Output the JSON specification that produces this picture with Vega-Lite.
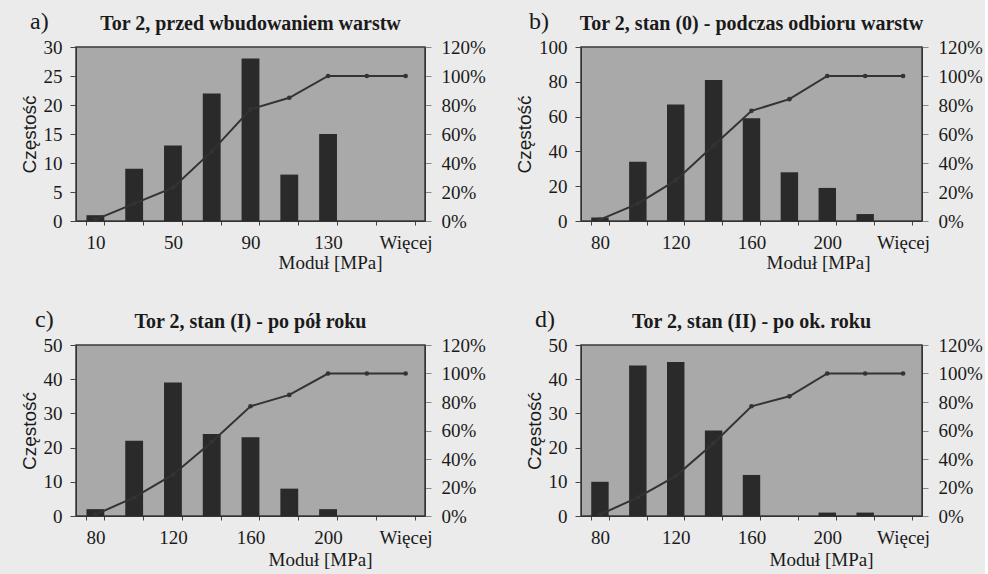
{
  "$schema": "https://vega.github.io/schema/vega-lite/v6.json",
  "background": "#ebebeb",
  "padding": {"left": 19, "top": 10, "right": 1, "bottom": 4},
  "datasets": {
    "a": [
      {"cat": "10", "n": 1, "cum": 0.01},
      {"cat": "30", "n": 9, "cum": 0.12},
      {"cat": "50", "n": 13, "cum": 0.23},
      {"cat": "70", "n": 22, "cum": 0.48},
      {"cat": "90", "n": 28, "cum": 0.77},
      {"cat": "110", "n": 8, "cum": 0.85},
      {"cat": "130", "n": 15, "cum": 1.0},
      {"cat": "150", "n": 0, "cum": 1.0},
      {"cat": "Więcej", "n": 0, "cum": 1.0}
    ],
    "b": [
      {"cat": "80", "n": 2, "cum": 0.01},
      {"cat": "100", "n": 34, "cum": 0.12},
      {"cat": "120", "n": 67, "cum": 0.28},
      {"cat": "140", "n": 81, "cum": 0.52},
      {"cat": "160", "n": 59, "cum": 0.76},
      {"cat": "180", "n": 28, "cum": 0.84},
      {"cat": "200", "n": 19, "cum": 1.0},
      {"cat": "220", "n": 4, "cum": 1.0},
      {"cat": "Więcej", "n": 0, "cum": 1.0}
    ],
    "c": [
      {"cat": "80", "n": 2, "cum": 0.01},
      {"cat": "100", "n": 22, "cum": 0.13},
      {"cat": "120", "n": 39, "cum": 0.29},
      {"cat": "140", "n": 24, "cum": 0.52},
      {"cat": "160", "n": 23, "cum": 0.77},
      {"cat": "180", "n": 8, "cum": 0.85},
      {"cat": "200", "n": 2, "cum": 1.0},
      {"cat": "220", "n": 0, "cum": 1.0},
      {"cat": "Więcej", "n": 0, "cum": 1.0}
    ],
    "d": [
      {"cat": "80", "n": 10, "cum": 0.01},
      {"cat": "100", "n": 44, "cum": 0.13},
      {"cat": "120", "n": 45, "cum": 0.28},
      {"cat": "140", "n": 25, "cum": 0.51},
      {"cat": "160", "n": 12, "cum": 0.77},
      {"cat": "180", "n": 0, "cum": 0.84},
      {"cat": "200", "n": 1, "cum": 1.0},
      {"cat": "220", "n": 1, "cum": 1.0},
      {"cat": "Więcej", "n": 0, "cum": 1.0}
    ]
  },
  "bounds": "flush",
  "spacing": 298,
  "vconcat": [
    {
      "bounds": "flush",
      "spacing": 505,
      "hconcat": [
        {
          "bounds": "flush",
          "title": {"text": "a)", "anchor": "start", "frame": "group", "dx": -46, "dy": 21, "fontSize": 24, "fontWeight": "normal", "font": "Liberation Serif", "offset": 0},
          "vconcat": [
            {
              "title": {"text": "Tor 2, przed wbudowaniem warstw", "fontSize": 20, "fontWeight": "bold", "font": "Liberation Serif", "anchor": "middle", "offset": 4},
              "width": 349, "height": 174,
              "data": {"name": "a"},
              "encoding": {
                "x": {"field": "cat", "type": "nominal", "sort": null,
                  "scale": {"paddingInner": 0.54, "paddingOuter": 0.27},
                  "axis": {"title": "Moduł [MPa]", "labelExpr": "indexof(['10','50','90','130','Więcej'], datum.label) >= 0 ? datum.label : ''", "titleX": 254, "titleY": 47, "titleBaseline": "alphabetic"}}
              },
              "layer": [
                {"mark": {"type": "bar", "color": "#2a2a2a"},
                 "encoding": {"y": {"field": "n", "type": "quantitative", "scale": {"domain": [0, 30], "nice": false},
                   "axis": {"title": "Częstość", "titleFont": "Liberation Sans", "values": [0, 5, 10, 15, 20, 25, 30], "tickSize": 6, "labelPadding": 8, "titlePadding": 4}}}},
                {"mark": {"type": "line", "color": "#333333", "strokeWidth": 2, "point": {"filled": true, "size": 22, "color": "#333333"}},
                 "encoding": {"y": {"field": "cum", "type": "quantitative", "scale": {"domain": [0, 1.2], "nice": false},
                   "axis": {"orient": "right", "title": null, "format": ".0%", "values": [0, 0.2, 0.4, 0.6, 0.8, 1.0, 1.2], "tickSize": 6, "labelPadding": 10, "tickColor": "#888888"}}}}
              ],
              "resolve": {"scale": {"y": "independent"}}
            }
          ]
        },
        {
          "bounds": "flush",
          "title": {"text": "b)", "anchor": "start", "frame": "group", "dx": -52, "dy": 21, "fontSize": 24, "fontWeight": "normal", "font": "Liberation Serif", "offset": 0},
          "vconcat": [
            {
              "title": {"text": "Tor 2, stan (0) - podczas odbioru warstw", "fontSize": 20, "fontWeight": "bold", "font": "Liberation Serif", "anchor": "middle", "offset": 4},
              "width": 341, "height": 174,
              "data": {"name": "b"},
              "encoding": {
                "x": {"field": "cat", "type": "nominal", "sort": null,
                  "scale": {"paddingInner": 0.54, "paddingOuter": 0.27},
                  "axis": {"title": "Moduł [MPa]", "labelExpr": "indexof(['80','120','160','200','Więcej'], datum.label) >= 0 ? datum.label : ''", "titleX": 237, "titleY": 47, "titleBaseline": "alphabetic"}}
              },
              "layer": [
                {"mark": {"type": "bar", "color": "#2a2a2a"},
                 "encoding": {"y": {"field": "n", "type": "quantitative", "scale": {"domain": [0, 100], "nice": false},
                   "axis": {"title": "Częstość", "titleFont": "Liberation Sans", "values": [0, 20, 40, 60, 80, 100], "tickSize": 6, "labelPadding": 8, "titlePadding": 4}}}},
                {"mark": {"type": "line", "color": "#333333", "strokeWidth": 2, "point": {"filled": true, "size": 22, "color": "#333333"}},
                 "encoding": {"y": {"field": "cum", "type": "quantitative", "scale": {"domain": [0, 1.2], "nice": false},
                   "axis": {"orient": "right", "title": null, "format": ".0%", "values": [0, 0.2, 0.4, 0.6, 0.8, 1.0, 1.2], "tickSize": 6, "labelPadding": 10, "tickColor": "#888888"}}}}
              ],
              "resolve": {"scale": {"y": "independent"}}
            }
          ]
        }
      ]
    },
    {
      "bounds": "flush",
      "spacing": 505,
      "hconcat": [
        {
          "bounds": "flush",
          "title": {"text": "c)", "anchor": "start", "frame": "group", "dx": -41, "dy": 21, "fontSize": 24, "fontWeight": "normal", "font": "Liberation Serif", "offset": 0},
          "vconcat": [
            {
              "title": {"text": "Tor 2, stan (I) - po pół roku", "fontSize": 20, "fontWeight": "bold", "font": "Liberation Serif", "anchor": "middle", "offset": 4},
              "width": 349, "height": 171,
              "data": {"name": "c"},
              "encoding": {
                "x": {"field": "cat", "type": "nominal", "sort": null,
                  "scale": {"paddingInner": 0.54, "paddingOuter": 0.27},
                  "axis": {"title": "Moduł [MPa]", "labelExpr": "indexof(['80','120','160','200','Więcej'], datum.label) >= 0 ? datum.label : ''", "titleX": 244, "titleY": 49, "titleBaseline": "alphabetic"}}
              },
              "layer": [
                {"mark": {"type": "bar", "color": "#2a2a2a"},
                 "encoding": {"y": {"field": "n", "type": "quantitative", "scale": {"domain": [0, 50], "nice": false},
                   "axis": {"title": "Częstość", "titleFont": "Liberation Sans", "values": [0, 10, 20, 30, 40, 50], "tickSize": 6, "labelPadding": 8, "titlePadding": 4}}}},
                {"mark": {"type": "line", "color": "#333333", "strokeWidth": 2, "point": {"filled": true, "size": 22, "color": "#333333"}},
                 "encoding": {"y": {"field": "cum", "type": "quantitative", "scale": {"domain": [0, 1.2], "nice": false},
                   "axis": {"orient": "right", "title": null, "format": ".0%", "values": [0, 0.2, 0.4, 0.6, 0.8, 1.0, 1.2], "tickSize": 6, "labelPadding": 10, "tickColor": "#888888"}}}}
              ],
              "resolve": {"scale": {"y": "independent"}}
            }
          ]
        },
        {
          "bounds": "flush",
          "title": {"text": "d)", "anchor": "start", "frame": "group", "dx": -46, "dy": 21, "fontSize": 24, "fontWeight": "normal", "font": "Liberation Serif", "offset": 0},
          "vconcat": [
            {
              "title": {"text": "Tor 2, stan (II) - po ok. roku", "fontSize": 20, "fontWeight": "bold", "font": "Liberation Serif", "anchor": "middle", "offset": 4},
              "width": 341, "height": 171,
              "data": {"name": "d"},
              "encoding": {
                "x": {"field": "cat", "type": "nominal", "sort": null,
                  "scale": {"paddingInner": 0.54, "paddingOuter": 0.27},
                  "axis": {"title": "Moduł [MPa]", "labelExpr": "indexof(['80','120','160','200','Więcej'], datum.label) >= 0 ? datum.label : ''", "titleX": 240, "titleY": 49, "titleBaseline": "alphabetic"}}
              },
              "layer": [
                {"mark": {"type": "bar", "color": "#2a2a2a"},
                 "encoding": {"y": {"field": "n", "type": "quantitative", "scale": {"domain": [0, 50], "nice": false},
                   "axis": {"title": "Częstość", "titleFont": "Liberation Sans", "values": [0, 10, 20, 30, 40, 50], "tickSize": 6, "labelPadding": 8, "titlePadding": 4}}}},
                {"mark": {"type": "line", "color": "#333333", "strokeWidth": 2, "point": {"filled": true, "size": 22, "color": "#333333"}},
                 "encoding": {"y": {"field": "cum", "type": "quantitative", "scale": {"domain": [0, 1.2], "nice": false},
                   "axis": {"orient": "right", "title": null, "format": ".0%", "values": [0, 0.2, 0.4, 0.6, 0.8, 1.0, 1.2], "tickSize": 6, "labelPadding": 10, "tickColor": "#888888"}}}}
              ],
              "resolve": {"scale": {"y": "independent"}}
            }
          ]
        }
      ]
    }
  ],
  "config": {
    "view": {"fill": "#a9a9a9", "stroke": "#3a3a3a", "strokeWidth": 1.5},
    "axis": {"labelFont": "Liberation Serif", "labelFontSize": 19, "labelColor": "#1a1a1a", "titleFont": "Liberation Serif", "titleFontSize": 19, "titleFontWeight": "normal", "titleColor": "#1a1a1a", "domainColor": "#333333", "tickColor": "#444444", "grid": false},
    "axisX": {"labelAngle": 0, "tickBand": "extent", "tickSize": 4, "labelPadding": 8},
    "title": {"color": "#1a1a1a"}
  }
}
